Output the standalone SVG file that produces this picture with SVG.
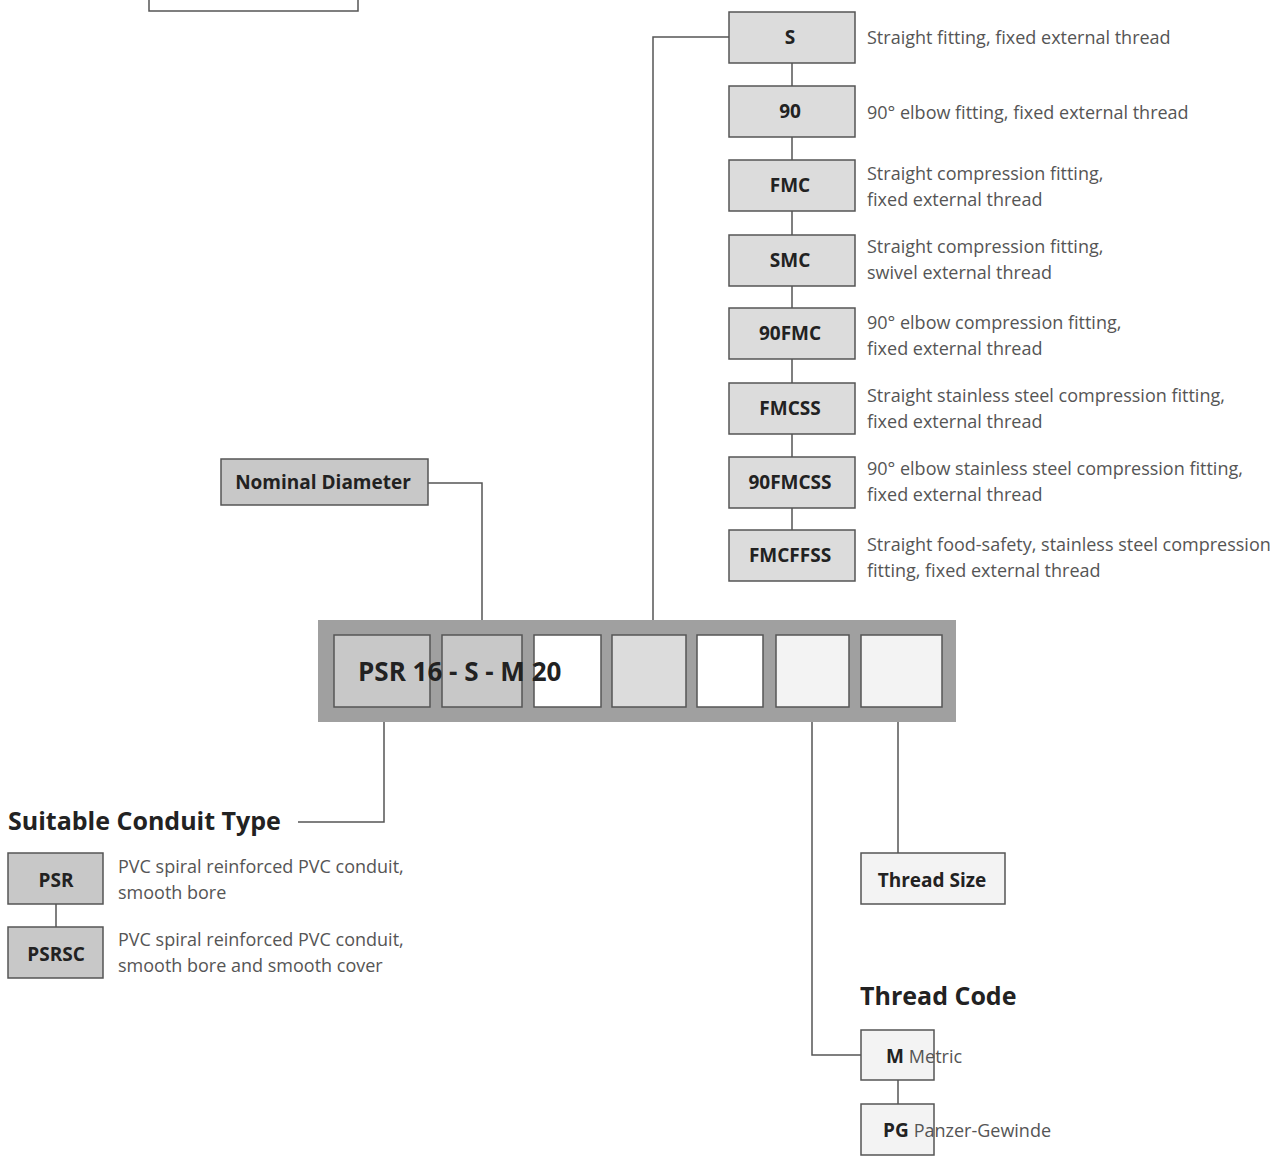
<svg xmlns="http://www.w3.org/2000/svg" width="1276" height="1164" viewBox="0 0 1276 1164">
<style>
text{font-family:"Open Sans","Liberation Sans",sans-serif}
.b{stroke:#555;stroke-width:1.5}
.g1{fill:#c8c8c8}.g2{fill:#dcdcdc}.g3{fill:#f3f3f3}.w{fill:#fff}
.lbl{font-weight:bold;font-size:19px;fill:#222;text-anchor:middle}
.d{font-size:18px;fill:#555}
.h{font-weight:bold;font-size:25px;fill:#222}
.c{fill:none;stroke:#555;stroke-width:1.5}
</style>
<rect width="1276" height="1164" fill="#fff"/>
<g id="top-box"><rect class="b w" x="149" y="-10" width="209" height="21"/></g>
<g id="connectors">
<path class="c" d="M428 483H482V635"/>
<path class="c" d="M729 37H653V635"/>
<path class="c" d="M792 63V530"/>
<path class="c" d="M384 707V822H298"/>
<path class="c" d="M812 707V1055H861"/>
<path class="c" d="M898 707V853"/>
<path class="c" d="M56 904V927"/>
<path class="c" d="M898 1080V1104"/>
</g>
<g id="code-bar">
<rect x="318" y="620" width="638" height="102" fill="#a0a0a0"/>
<rect class="b g1" x="334" y="635" width="96" height="72"/>
<rect class="b g1" x="442" y="635" width="80" height="72"/>
<rect class="b w" x="534" y="635" width="67" height="72"/>
<rect class="b g2" x="612" y="635" width="74" height="72"/>
<rect class="b w" x="697" y="635" width="66" height="72"/>
<rect class="b g3" x="776" y="635" width="73" height="72"/>
<rect class="b g3" x="861" y="635" width="81" height="72"/>
<text x="358" y="681" font-size="26" font-weight="bold" fill="#222">PSR 16 - S - M 20</text>
</g>
<g id="nominal"><rect class="b g1" x="221" y="459" width="207" height="46"/><text class="lbl" x="323" y="489">Nominal Diameter</text></g>
<g id="S"><rect class="b g2" x="729" y="12" width="126" height="51"/><text class="lbl" x="790" y="44">S</text><text class="d" x="867" y="44">Straight fitting, fixed external thread</text></g>
<g id="n90"><rect class="b g2" x="729" y="86" width="126" height="51"/><text class="lbl" x="790" y="118">90</text><text class="d" x="867" y="119">90° elbow fitting, fixed external thread</text></g>
<g id="FMC"><rect class="b g2" x="729" y="160" width="126" height="51"/><text class="lbl" x="790" y="192">FMC</text><text class="d" x="867" y="180">Straight compression fitting,</text><text class="d" x="867" y="206">fixed external thread</text></g>
<g id="SMC"><rect class="b g2" x="729" y="235" width="126" height="51"/><text class="lbl" x="790" y="267">SMC</text><text class="d" x="867" y="253">Straight compression fitting,</text><text class="d" x="867" y="279">swivel external thread</text></g>
<g id="n90FMC"><rect class="b g2" x="729" y="308" width="126" height="51"/><text class="lbl" x="790" y="340">90FMC</text><text class="d" x="867" y="329">90° elbow compression fitting,</text><text class="d" x="867" y="355">fixed external thread</text></g>
<g id="FMCSS"><rect class="b g2" x="729" y="383" width="126" height="51"/><text class="lbl" x="790" y="415">FMCSS</text><text class="d" x="867" y="402">Straight stainless steel compression fitting,</text><text class="d" x="867" y="428">fixed external thread</text></g>
<g id="n90FMCSS"><rect class="b g2" x="729" y="457" width="126" height="51"/><text class="lbl" x="790" y="489">90FMCSS</text><text class="d" x="867" y="475">90° elbow stainless steel compression fitting,</text><text class="d" x="867" y="501">fixed external thread</text></g>
<g id="FMCFFSS"><rect class="b g2" x="729" y="530" width="126" height="51"/><text class="lbl" x="790" y="562">FMCFFSS</text><text class="d" x="867" y="551">Straight food-safety, stainless steel compression</text><text class="d" x="867" y="577">fitting, fixed external thread</text></g>
<g id="conduit-title"><text class="h" x="8" y="830">Suitable Conduit Type</text></g>
<g id="PSR"><rect class="b g1" x="8" y="853" width="95" height="51"/><text class="lbl" x="56" y="887">PSR</text><text class="d" x="118" y="873">PVC spiral reinforced PVC conduit,</text><text class="d" x="118" y="899">smooth bore</text></g>
<g id="PSRSC"><rect class="b g1" x="8" y="927" width="95" height="51"/><text class="lbl" x="56" y="961">PSRSC</text><text class="d" x="118" y="946">PVC spiral reinforced PVC conduit,</text><text class="d" x="118" y="972">smooth bore and smooth cover</text></g>
<g id="thread-size"><rect class="b g3" x="861" y="853" width="144" height="51"/><text class="lbl" x="932" y="887">Thread Size</text></g>
<g id="thread-code-title"><text class="h" x="860" y="1005">Thread Code</text></g>
<g id="M"><rect class="b g3" x="861" y="1030" width="73" height="50"/><text x="886" y="1063" font-size="19" font-weight="bold" fill="#222">M <tspan font-weight="normal" fill="#555" font-size="18">Metric</tspan></text></g>
<g id="PG"><rect class="b g3" x="861" y="1104" width="73" height="51"/><text x="883" y="1137" font-size="19" font-weight="bold" fill="#222">PG <tspan font-weight="normal" fill="#555" font-size="18">Panzer-Gewinde</tspan></text></g>
</svg>
